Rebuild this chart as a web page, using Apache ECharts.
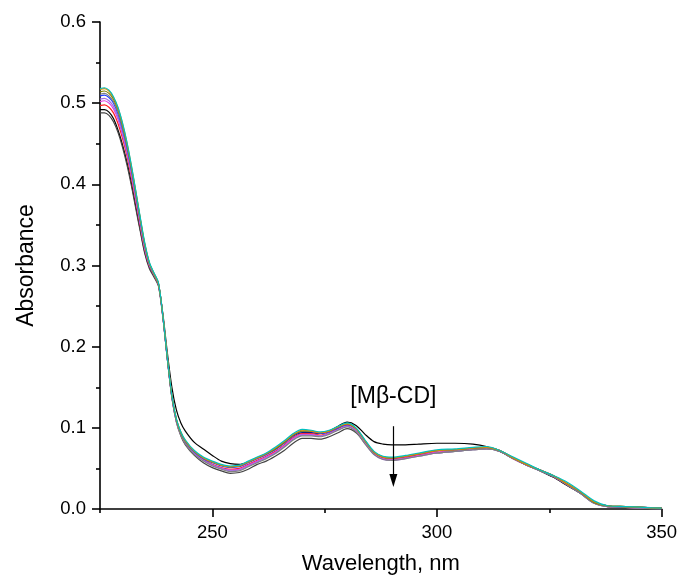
<!DOCTYPE html>
<html>
<head>
<meta charset="utf-8">
<script src="https://cdn.jsdelivr.net/npm/echarts@6/dist/echarts.min.js"></script>
<style>html,body{margin:0;padding:0;background:#fff;}#c{width:680px;height:584px;}</style>
</head>
<body>
<div id="c"></div>
<script>
const wavelengths = [225,226,227,228,229,230,231,232,233,234,235,236,237,238,239,240,241,242,243,244,
  246,248,250,252,254,256,258,260,262,264,266,268,270,272,274,276,278,280,282,284,286,288,290,
  293,296,300,304,308,311,314,317,320,323,326,329,332,335,338,342,346,350];

const absBlack = [0.492,0.492,0.489,0.481,0.467,0.449,0.427,0.401,0.372,0.343,0.316,0.298,0.288,0.276,0.240,0.192,0.150,0.122,0.106,0.096,
  0.082,0.074,0.066,0.059,0.056,0.055,0.058,0.063,0.068,0.074,0.082,0.090,0.094,0.094,0.093,0.096,0.102,0.107,0.103,0.092,0.083,0.080,0.079,
  0.079,0.080,0.081,0.081,0.080,0.077,0.071,0.062,0.054,0.047,0.039,0.029,0.019,0.008,0.004,0.003,0.002,0.001];
const absDarkGray = [0.488,0.488,0.485,0.477,0.464,0.446,0.424,0.398,0.369,0.341,0.314,0.296,0.286,0.275,0.236,0.184,0.137,0.107,0.090,0.079,
  0.066,0.057,0.051,0.047,0.044,0.045,0.049,0.055,0.059,0.065,0.072,0.081,0.087,0.087,0.086,0.089,0.094,0.099,0.094,0.081,0.068,0.062,0.061,
  0.063,0.066,0.069,0.071,0.073,0.074,0.071,0.062,0.054,0.047,0.039,0.029,0.019,0.007,0.003,0.002,0.001,0.000];
const absRed = [0.497,0.498,0.495,0.488,0.475,0.457,0.435,0.408,0.378,0.348,0.319,0.300,0.289,0.277,0.237,0.185,0.138,0.109,0.093,0.082,
  0.069,0.061,0.055,0.051,0.049,0.050,0.055,0.060,0.065,0.071,0.079,0.088,0.093,0.093,0.091,0.094,0.099,0.103,0.098,0.083,0.069,0.063,0.062,
  0.064,0.067,0.070,0.072,0.074,0.075,0.072,0.062,0.054,0.048,0.040,0.030,0.020,0.008,0.003,0.002,0.001,0.001];
const absMagenta = [0.502,0.503,0.500,0.493,0.480,0.461,0.438,0.411,0.380,0.349,0.320,0.300,0.289,0.277,0.237,0.185,0.138,0.108,0.092,0.081,
  0.068,0.060,0.054,0.050,0.048,0.049,0.054,0.059,0.064,0.070,0.078,0.087,0.092,0.092,0.090,0.093,0.098,0.102,0.097,0.082,0.068,0.062,0.061,
  0.063,0.066,0.070,0.072,0.074,0.075,0.072,0.062,0.054,0.048,0.040,0.030,0.020,0.008,0.003,0.002,0.001,0.001];
const absPurple = [0.505,0.506,0.503,0.496,0.483,0.464,0.441,0.413,0.382,0.351,0.321,0.301,0.289,0.277,0.236,0.184,0.138,0.108,0.092,0.081,
  0.068,0.060,0.054,0.050,0.047,0.048,0.053,0.058,0.063,0.069,0.077,0.086,0.091,0.091,0.090,0.093,0.098,0.102,0.096,0.081,0.067,0.061,0.060,
  0.062,0.065,0.069,0.071,0.073,0.074,0.071,0.062,0.054,0.047,0.040,0.030,0.019,0.007,0.003,0.002,0.001,0.000];
const absBlue = [0.509,0.510,0.507,0.500,0.487,0.468,0.445,0.417,0.386,0.354,0.324,0.302,0.290,0.278,0.237,0.185,0.139,0.110,0.094,0.083,
  0.070,0.062,0.057,0.053,0.051,0.052,0.057,0.062,0.067,0.073,0.081,0.090,0.095,0.095,0.093,0.095,0.100,0.104,0.099,0.084,0.070,0.064,0.063,
  0.065,0.068,0.072,0.073,0.075,0.076,0.072,0.063,0.055,0.048,0.041,0.031,0.020,0.008,0.004,0.002,0.002,0.001];
const absGray = [0.511,0.512,0.509,0.502,0.489,0.470,0.447,0.419,0.387,0.355,0.324,0.302,0.290,0.278,0.237,0.185,0.138,0.108,0.091,0.080,
  0.067,0.059,0.053,0.049,0.046,0.047,0.052,0.057,0.062,0.068,0.076,0.085,0.090,0.090,0.089,0.092,0.097,0.101,0.095,0.080,0.067,0.061,0.060,
  0.062,0.065,0.069,0.071,0.073,0.074,0.071,0.062,0.054,0.047,0.040,0.030,0.019,0.007,0.003,0.002,0.001,0.000];
const absOlive = [0.514,0.515,0.512,0.505,0.492,0.473,0.449,0.420,0.389,0.356,0.325,0.303,0.290,0.278,0.238,0.186,0.139,0.110,0.094,0.084,
  0.071,0.063,0.058,0.054,0.052,0.053,0.058,0.063,0.068,0.074,0.082,0.091,0.096,0.096,0.094,0.096,0.101,0.105,0.099,0.084,0.070,0.064,0.063,
  0.065,0.068,0.072,0.073,0.075,0.076,0.072,0.063,0.055,0.048,0.041,0.031,0.021,0.008,0.004,0.003,0.002,0.001];
const absOrange = [0.517,0.518,0.515,0.507,0.494,0.475,0.451,0.422,0.390,0.357,0.326,0.303,0.290,0.278,0.238,0.186,0.140,0.111,0.095,0.084,
  0.071,0.063,0.058,0.054,0.052,0.053,0.058,0.063,0.068,0.075,0.083,0.092,0.097,0.096,0.094,0.096,0.101,0.105,0.099,0.084,0.070,0.064,0.063,
  0.065,0.068,0.072,0.073,0.075,0.076,0.072,0.063,0.055,0.048,0.041,0.031,0.021,0.009,0.004,0.003,0.002,0.001];
const absTeal = [0.518,0.519,0.516,0.508,0.495,0.476,0.452,0.423,0.391,0.358,0.327,0.304,0.291,0.279,0.238,0.186,0.140,0.111,0.095,0.085,
  0.072,0.064,0.059,0.055,0.053,0.054,0.059,0.064,0.069,0.076,0.084,0.093,0.098,0.097,0.095,0.097,0.102,0.106,0.100,0.085,0.071,0.065,0.064,
  0.066,0.069,0.073,0.074,0.076,0.077,0.072,0.064,0.056,0.048,0.041,0.033,0.022,0.010,0.004,0.003,0.002,0.001];

const seriesDefs = [
  {name:'s1', color:'#000000', values:absBlack},
  {name:'s2', color:'#444444', values:absDarkGray},
  {name:'s3', color:'#ff2020', values:absRed},
  {name:'s4', color:'#e040e0', values:absMagenta},
  {name:'s5', color:'#a070e8', values:absPurple},
  {name:'s6', color:'#2040ff', values:absBlue},
  {name:'s7', color:'#808080', values:absGray},
  {name:'s8', color:'#808000', values:absOlive},
  {name:'s9', color:'#e08a00', values:absOrange},
  {name:'s10', color:'#00c0c0', values:absTeal}
];

const xMajorTicks = [250,300,350];
const xMinorTicks = [225,275,325];
const annotationText = '[Mβ-CD]';
const arrowX = 290.3, arrowTop = 0.102, arrowEnd = 0.035;

const FONT = '"Liberation Sans", Arial, sans-serif';
const chart = echarts.init(document.getElementById('c'));

const series = seriesDefs.map(d => ({
  type:'line', name:d.name, xAxisIndex:0, yAxisIndex:0,
  data: wavelengths.map((w,i)=>[w,d.values[i]]),
  showSymbol:false, symbol:'none', smooth:0.3,
  lineStyle:{color:d.color, width:1.2}, itemStyle:{color:d.color},
  animation:false, silent:true
}));
series[0].z = 3;
series.push({
  type:'line', xAxisIndex:0, yAxisIndex:0, data:[], silent:true, animation:false,
  markLine:{
    silent:true, animation:false,
    symbol:['none','triangle'], symbolSize:[8,13],
    lineStyle:{color:'#000', width:1.2, type:'solid'},
    label:{show:false},
    data:[[{coord:[arrowX,arrowTop]},{coord:[arrowX,arrowEnd]}]]
  }
});

chart.setOption({
  backgroundColor:'#fff',
  animation:false,
  grid:{left:100, right:17, top:22, bottom:75, containLabel:false},
  xAxis:[{
    type:'value', min:225, max:350, interval:25,
    name:'Wavelength, nm', nameLocation:'middle', nameGap:44,
    nameTextStyle:{fontFamily:FONT, fontSize:22, color:'#000'},
    axisLine:{show:true, onZero:false, lineStyle:{color:'#000', width:1.6}},
    axisTick:{show:true, inside:false, length:8, customValues:xMajorTicks, lineStyle:{color:'#000', width:1.6}},
    axisLabel:{show:true, customValues:xMajorTicks, margin:14, fontFamily:FONT, fontSize:18.5, color:'#000'},
    splitLine:{show:false}
  },{
    type:'value', min:225, max:350, interval:25, position:'bottom',
    axisLine:{show:false},
    axisTick:{show:true, inside:false, length:4, customValues:xMinorTicks, lineStyle:{color:'#000', width:1.6}},
    axisLabel:{show:false}, splitLine:{show:false}
  }],
  yAxis:{
    type:'value', min:0, max:0.6, interval:0.1,
    name:'Absorbance', nameLocation:'middle', nameGap:62, nameRotate:90,
    nameTextStyle:{fontFamily:FONT, fontSize:23, color:'#000'},
    axisLine:{show:true, onZero:false, lineStyle:{color:'#000', width:1.6}},
    axisTick:{show:true, inside:false, length:8, lineStyle:{color:'#000', width:1.6}},
    minorTick:{show:true, splitNumber:2, length:4, lineStyle:{color:'#000', width:1.6}},
    axisLabel:{margin:14, fontFamily:FONT, fontSize:18.5, color:'#000', formatter:v=>v.toFixed(1)},
    splitLine:{show:false}, minorSplitLine:{show:false}
  },
  series: series
});

const p = chart.convertToPixel({xAxisIndex:0, yAxisIndex:0}, [arrowX, arrowTop]);
chart.setOption({
  graphic:[{
    type:'text', x:p[0], y:p[1]-30, silent:true,
    style:{text:annotationText, fontFamily:FONT, fontSize:23, fill:'#000', align:'center', verticalAlign:'middle'}
  }]
});
</script>
</body>
</html>
